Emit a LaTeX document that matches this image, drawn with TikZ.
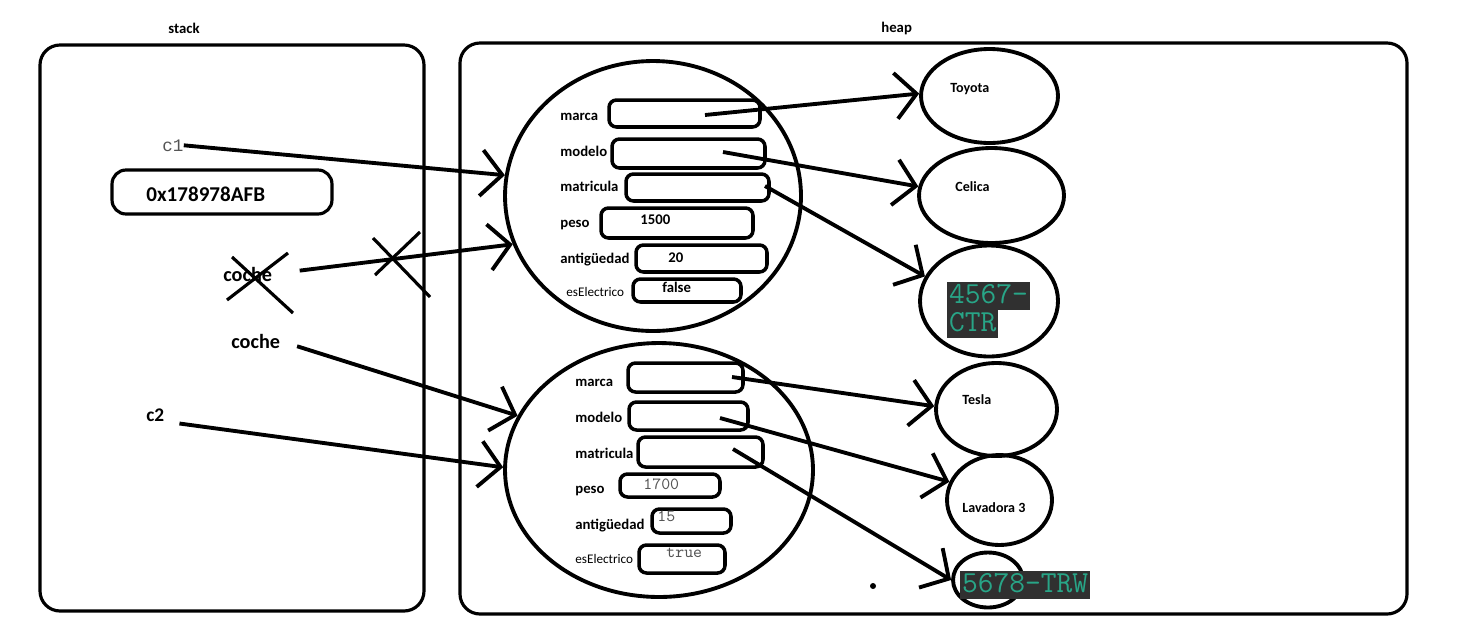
\documentclass[tikz,border=0pt]{standalone}
\usepackage{fontspec}
\setmainfont{Carlito}
\newfontfamily\consolas{Liberation Mono}
\usetikzlibrary{arrows.meta,shapes.geometric}
\definecolor{fondo}{RGB}{48,48,48}
\definecolor{verde}{RGB}{40,165,135}
\definecolor{gris}{RGB}{85,85,85}

\begin{document}
\begin{tikzpicture}[x=0.02cm,y=-0.02cm,
    caja/.style={draw,line width=1.8pt,rounded corners=0.4cm},
    objeto/.style={draw,ellipse,line width=2.2pt,inner sep=0pt},
    campo/.style={draw,line width=2pt,rounded corners=0.15cm,inner sep=0pt},
    texto/.style={anchor=base west,inner sep=0pt,font=\bfseries\fontsize{8.4}{10}\selectfont},
    textomono/.style={anchor=base west,inner sep=0pt,text=gris,font=\ttfamily\fontsize{9.7}{11}\selectfont},
    grande/.style={anchor=base west,inner sep=0pt,font=\bfseries\fontsize{11.5}{13}\selectfont},
    codigo/.style={anchor=north west,fill=fondo,text=verde,inner sep=1pt,text height=11pt,text depth=2.5pt,font=\ttfamily\fontsize{17.4}{19}\selectfont},
    ref/.style={line width=2.2pt,-{Straight Barb[length=0.42cm,width=0.92cm]}}]
    \useasboundingbox (0,0) rectangle (1459,643);
    % Titulos
    \node[texto] (tstack) at (168,33) {stack};
    \node[texto] (theap) at (881,32) {heap};
    % Cajas de stack y heap
    \draw[caja] (40,45) rectangle (424,611);
    \draw[caja] (460,43) rectangle (1407,614);
    % Variables en el stack
    \node[anchor=base west,inner sep=0pt,text=gris,font=\consolas\fontsize{10}{12}\selectfont] (c1) at (162,151) {c1};
    \node[campo,line width=1.8pt,rounded corners=0.28cm,minimum width=4.4cm,minimum height=0.88cm] (dirbox) at (222,192) {};
    \node[anchor=base west,inner sep=0pt,font=\bfseries\fontsize{12}{14}\selectfont] (dir) at (146,201) {0x178978AFB};
    \node[grande] (cocheA) at (223,281) {coche};
    \node[grande] (cocheB) at (231,348) {coche};
    \node[grande,font=\bfseries\fontsize{11}{13}\selectfont] (c2) at (146,421) {c2};
    % Primer objeto
    \node[objeto,minimum width=5.92cm,minimum height=5.4cm] (objA) at (653,196) {};
    \node[campo,minimum width=3.02cm,minimum height=0.54cm] (marcaA) at (684.5,113.5) {};
    \node[campo,minimum width=3.06cm,minimum height=0.58cm] (modeloA) at (688.5,153.5) {};
    \node[campo,minimum width=2.86cm,minimum height=0.54cm] (matriculaA) at (697.5,187.5) {};
    \node[campo,minimum width=3.04cm,minimum height=0.6cm] (pesoA) at (677,223) {};
    \node[campo,minimum width=2.62cm,minimum height=0.54cm] (antigA) at (701.5,258.5) {};
    \node[campo,minimum width=2.16cm,minimum height=0.46cm] (electA) at (687,290.5) {};
    \node[texto] at (560,120) {marca};
    \node[texto] at (560,156) {modelo};
    \node[texto] at (560,191) {matricula};
    \node[texto] at (560,227) {peso};
    \node[texto] at (560,263) {antigüedad};
    \node[anchor=base west,inner sep=0pt,font=\fontsize{7.5}{9}\selectfont] at (566,296) {esElectrico};
    \node[texto] (vpesoA) at (640,224) {1500};
    \node[texto] (vantigA) at (668,262) {20};
    \node[texto] (velectA) at (662,292) {false};
    % Segundo objeto
    \node[objeto,minimum width=6.16cm,minimum height=5.08cm] (objB) at (659,470) {};
    \node[campo,minimum width=2.3cm,minimum height=0.58cm] (marcaB) at (685.5,377.5) {};
    \node[campo,minimum width=2.38cm,minimum height=0.56cm] (modeloB) at (688.5,416) {};
    \node[campo,minimum width=2.5cm,minimum height=0.6cm] (matriculaB) at (700.5,452) {};
    \node[campo,minimum width=2.0cm,minimum height=0.46cm] (pesoB) at (670,485.5) {};
    \node[campo,minimum width=1.58cm,minimum height=0.48cm] (antigB) at (691.5,521) {};
    \node[campo,minimum width=1.72cm,minimum height=0.56cm] (electB) at (682,559) {};
    \node[texto] at (575,386) {marca};
    \node[texto] at (575,422) {modelo};
    \node[texto] at (575,458) {matricula};
    \node[texto] at (575,493) {peso};
    \node[texto] at (575,529) {antigüedad};
    \node[anchor=base west,inner sep=0pt,font=\fontsize{7.5}{9}\selectfont] at (575,563) {esElectrico};
    \node[textomono] (vpesoB) at (643,489) {1700};
    \node[textomono] (vantigB) at (657,521) {15};
    \node[textomono] (velectB) at (666,557) {true};
    % Objetos de texto en el heap
    \node[objeto,minimum width=2.74cm,minimum height=1.88cm] (toyota) at (989.5,96) {};
    \node[objeto,minimum width=2.9cm,minimum height=1.9cm] (celica) at (991.5,195.5) {};
    \node[objeto,minimum width=2.76cm,minimum height=2.22cm] (matA) at (989,301) {};
    \node[objeto,minimum width=2.42cm,minimum height=1.86cm] (tesla) at (996.5,409.5) {};
    \node[objeto,minimum width=2.1cm,minimum height=1.8cm] (lavadora) at (999.5,500) {};
    \node[objeto,minimum width=1.4cm,minimum height=1.1cm] (matB) at (988,580) {};
    \node[texto,font=\bfseries\fontsize{8}{10}\selectfont] at (950,92) {Toyota};
    \node[texto,font=\bfseries\fontsize{8}{10}\selectfont] at (955,191) {Celica};
    \node[texto,font=\bfseries\fontsize{8}{10}\selectfont] at (962,404) {Tesla};
    \node[texto,font=\bfseries\fontsize{8}{10}\selectfont] at (962,512) {Lavadora 3};
    \node[codigo] (codA1) at (947,282) {4567-};
    \node[codigo] (codA2) at (codA1.south west) {CTR};
    \node[codigo] (codB) at (960,571) {5678-TRW};
    % Referencias desde el stack
    \draw[ref] (c1.east) -- (objA.172);
    \draw[ref,shorten <=0.55cm] (cocheA.east) -- (objA.199);
    \draw[ref,shorten <=0.35cm] (cocheB.east) -- (objB.159);
    \draw[ref,shorten <=0.3cm] (c2.south east) -- (objB.179);
    % Referencias desde los campos
    \coordinate (pA1) at (705,115);
    \coordinate (pA2) at (723,152);
    \coordinate (pA3) at (765,186);
    \coordinate (pB1) at (732,377);
    \coordinate (pB2) at (720,418);
    \coordinate (pB3) at (733,449);
    \draw[ref] (pA1) -- (toyota.178);
    \draw[ref] (pA2) -- (celica.173);
    \draw[ref] (pA3) -- (matA.159);
    \draw[ref] (pB1) -- (tesla.177);
    \draw[ref] (pB2) -- (lavadora.160);
    \draw[ref] (pB3) -- (matB.west);
    % Tachones
    \draw[line width=1.8pt] (232,257) -- (293,313);
    \draw[line width=1.8pt] (227,300) -- (288,253);
    \draw[line width=1.8pt] (373,238) -- (430,297);
    \draw[line width=1.8pt] (375,275) -- (420,232);
    \fill (873,586) circle (0.06cm);
\end{tikzpicture}
\end{document}
